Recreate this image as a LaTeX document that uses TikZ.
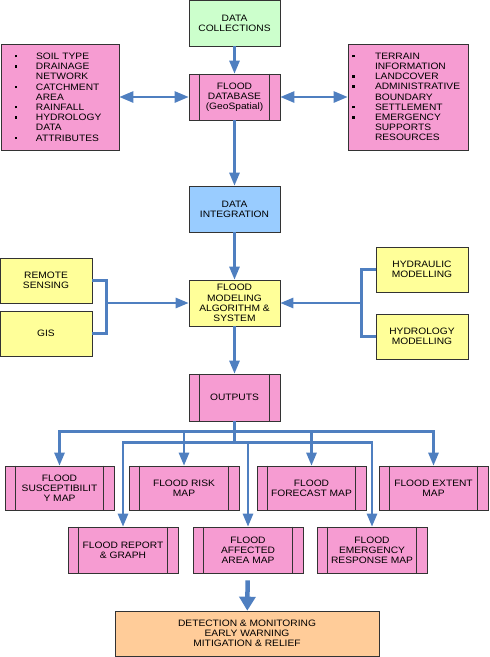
\documentclass[tikz,border=0pt]{standalone}
\usepackage{fontspec}
\usepackage{tikz}
\usetikzlibrary{arrows.meta}
\newfontfamily\boxfont{Liberation Sans}[FakeStretch=1.1]
\definecolor{flowblue}{RGB}{79,127,192}
\definecolor{boxpink}{RGB}{246,156,210}
\definecolor{boxgreen}{RGB}{204,255,204}
\definecolor{boxblue}{RGB}{153,204,255}
\definecolor{boxyellow}{RGB}{255,255,153}
\definecolor{boxorange}{RGB}{255,204,153}
\newcommand{\itm}[1]{\makebox[21pt][l]{\raisebox{2pt}{\rule{2.5pt}{2.5pt}}}#1}
\newcommand{\cnt}[1]{\hspace*{21pt}#1}

\begin{document}
\begin{tikzpicture}[x=1pt,y=1pt,
        font=\boxfont\fontsize{9.3}{10.2}\selectfont,
        every node/.style={draw=black!80,line width=0.6pt,align=center,inner sep=1pt},
        box/.style={minimum width=91pt,minimum height=46pt},
        pinkbox/.style={box,fill=boxpink},
        flow/.style={draw=flowblue,line width=2.5pt,-{Triangle[width=10pt,length=13pt]}},
        link/.style={draw=flowblue,line width=2.5pt}
    ]
    \useasboundingbox (0,0) rectangle (490,-657);
    % top part
    \node[box,fill=boxgreen] (coll) at (234.5,-23) {DATA\\COLLECTIONS};
    \node[pinkbox] (db) at (234.5,-97) {FLOOD\\DATABASE\\(GeoSpatial)};
    \node[fill=boxpink,minimum width=118pt,minimum height=106pt,text width=90pt,align=left]
        (left) at (60,-97) {\itm{SOIL TYPE}\\\itm{DRAINAGE}\\\cnt{NETWORK}\\\itm{CATCHMENT}\\\cnt{AREA}\\\itm{RAINFALL}\\\itm{HYDROLOGY}\\\cnt{DATA}\\\itm{ATTRIBUTES}};
    \renewcommand{\itm}[1]{\makebox[23pt][l]{\raisebox{2pt}{\rule{2.5pt}{2.5pt}}}#1}
    \renewcommand{\cnt}[1]{\hspace*{23pt}#1}
    \node[fill=boxpink,minimum width=120pt,minimum height=106pt,text width=112pt,align=left]
        (right) at (408,-97) {\itm{TERRAIN}\\\cnt{INFORMATION}\\\itm{LANDCOVER}\\\itm{ADMINISTRATIVE}\\\cnt{BOUNDARY}\\\itm{SETTLEMENT}\\\itm{EMERGENCY}\\\cnt{SUPPORTS}\\\cnt{RESOURCES}};
    \node[box,fill=boxblue] (integ) at (234.5,-209) {DATA\\INTEGRATION};
    % modelling
    \node[box,fill=boxyellow] (model) at (234.5,-303) {FLOOD\\MODELING\\ALGORITHM \&\\SYSTEM};
    \node[box,fill=boxyellow,minimum width=92pt,minimum height=45pt] (rs) at (46,-280.5) {REMOTE\\SENSING};
    \node[box,fill=boxyellow,minimum width=92pt,minimum height=45pt] (gis) at (46,-333.5) {GIS};
    \node[box,fill=boxyellow,minimum width=92pt,minimum height=45pt] (hydr) at (422,-269.5) {HYDRAULIC\\MODELLING};
    \node[box,fill=boxyellow,minimum width=92pt,minimum height=45pt] (hydro) at (422,-336.5) {HYDROLOGY\\MODELLING};
    % outputs
    \node[pinkbox,minimum height=47pt] (out) at (234.5,-397.5) {OUTPUTS};
    \node[pinkbox,minimum width=109pt,minimum height=44pt] (susc) at (59.5,-488) {FLOOD\\SUSCEPTIBILIT\\Y MAP};
    \node[pinkbox,minimum width=110pt,minimum height=44pt] (risk) at (184,-488) {FLOOD RISK\\MAP};
    \node[pinkbox,minimum width=109pt,minimum height=44pt] (fore) at (311.5,-488) {FLOOD\\FORECAST MAP};
    \node[pinkbox,minimum width=109pt,minimum height=44pt] (ext) at (433.5,-488) {FLOOD EXTENT\\MAP};
    \node[pinkbox,minimum width=110pt] (rep) at (123,-550) {FLOOD REPORT\\\& GRAPH};
    \node[pinkbox,minimum width=110pt] (aff) at (248,-550) {FLOOD\\AFFECTED\\AREA MAP};
    \node[pinkbox,minimum width=110pt] (emer) at (372,-550) {FLOOD\\EMERGENCY\\RESPONSE MAP};
    \node[fill=boxorange,minimum width=264pt,minimum height=45pt] (det) at (247,-633.5)
        {DETECTION \& MONITORING\\EARLY WARNING\\MITIGATION \& RELIEF};
    % side bars of the process boxes
    \foreach \n in {db,out,susc,risk,fore,ext,rep,aff,emer}
        \draw[black!80,line width=0.6pt] ([xshift=11pt]\n.north west) -- ([xshift=11pt]\n.south west)
            ([xshift=-11pt]\n.north east) -- ([xshift=-11pt]\n.south east);
    % connectors
    \coordinate (lj) at ([xshift=14pt]rs.east |- model.west);
    \coordinate (rj) at ([xshift=-14pt]hydr.west |- model.east);
    \coordinate (b1) at ([yshift=-10pt]out.south);
    \coordinate (b2) at ([yshift=-21pt]out.south);
    \draw[flow] (coll) -- (db);
    \draw[flow,{Triangle[width=11pt,length=14pt]}-{Triangle[width=11pt,length=14pt]}] (left) -- (db);
    \draw[flow,{Triangle[width=11pt,length=14pt]}-{Triangle[width=11pt,length=14pt]}] (db) -- (right);
    \draw[flow] (db) -- (integ);
    \draw[flow] (integ) -- (model);
    \draw[link] (rs.east) -- ++(14,0) |- (gis.east);
    \draw[link] (hydr.west) -- ++(-14,0) |- (hydro.west);
    \draw[flow] (lj) -- (model);
    \draw[flow] (rj) -- (model);
    \draw[flow] (model) -- (out);
    \draw[link] (out.south) -- (b2);
    \foreach \n in {susc,risk,fore,ext}
        \draw[flow] (b1) -| (\n.north);
    \foreach \n in {rep,aff,emer}
        \draw[flow] (b2) -| (\n.north);
    \draw[flow,line width=4.5pt,-{Triangle[width=16pt,length=14pt]},shorten <=7pt] (aff) -- (det);
\end{tikzpicture}
\end{document}
